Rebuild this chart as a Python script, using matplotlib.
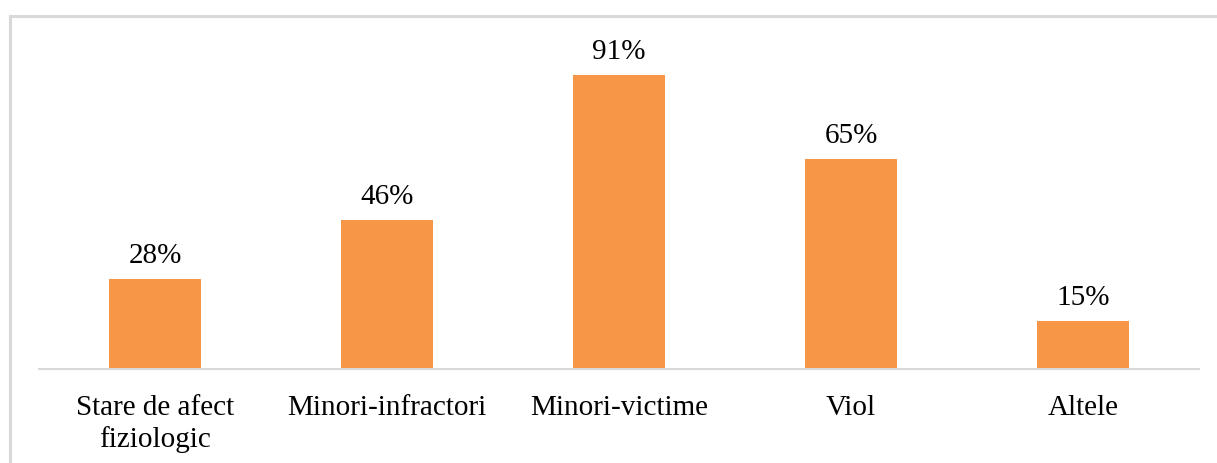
import matplotlib.pyplot as plt
from matplotlib.lines import Line2D

categorii = ["Stare de afect\nfiziologic", "Minori-infractori", "Minori-victime", "Viol", "Altele"]
procente = [28, 46, 91, 65, 15]
etichete = ["28%", "46%", "91%", "65%", "15%"]

plt.rcParams['font.family'] = ['Liberation Serif', 'DejaVu Serif']

W, H = 1217, 463
fig = plt.figure(figsize=(W / 100, H / 100), dpi=100)
fig.patch.set_facecolor('white')

# chenarul graficului
fig.add_artist(Line2D([9.5 / W, 9.5 / W], [0, 1 - 15.5 / H], color='#D9D9D9', lw=2.2))
fig.add_artist(Line2D([9.5 / W, 1], [1 - 15.5 / H, 1 - 15.5 / H], color='#D9D9D9', lw=2.2))

ax = fig.add_axes([39 / W, 1 - 369 / H, 1160 / W, 323 / H])
x = range(len(categorii))
bare = ax.bar(x, procente, width=0.4, color='#F79646', zorder=2)

for b, t in zip(bare, etichete):
    ax.annotate(t, (b.get_x() + b.get_width() / 2, b.get_height()),
                xytext=(0, 11.5), textcoords='offset points',
                ha='center', va='baseline', fontsize=21, color='#000000')

ax.set_xlim(-0.5, len(categorii) - 0.5)
ax.set_ylim(0, 100)
ax.set_xticks(list(x))
ax.set_xticklabels(categorii, fontsize=21, color='#000000')
ax.tick_params(axis='x', length=0, pad=19)
ax.set_yticks([])
for s in ['top', 'right', 'left']:
    ax.spines[s].set_visible(False)
ax.spines['bottom'].set_color('#D9D9D9')
ax.spines['bottom'].set_linewidth(1.5)

fig.savefig('out.png', dpi=100, facecolor='white')
